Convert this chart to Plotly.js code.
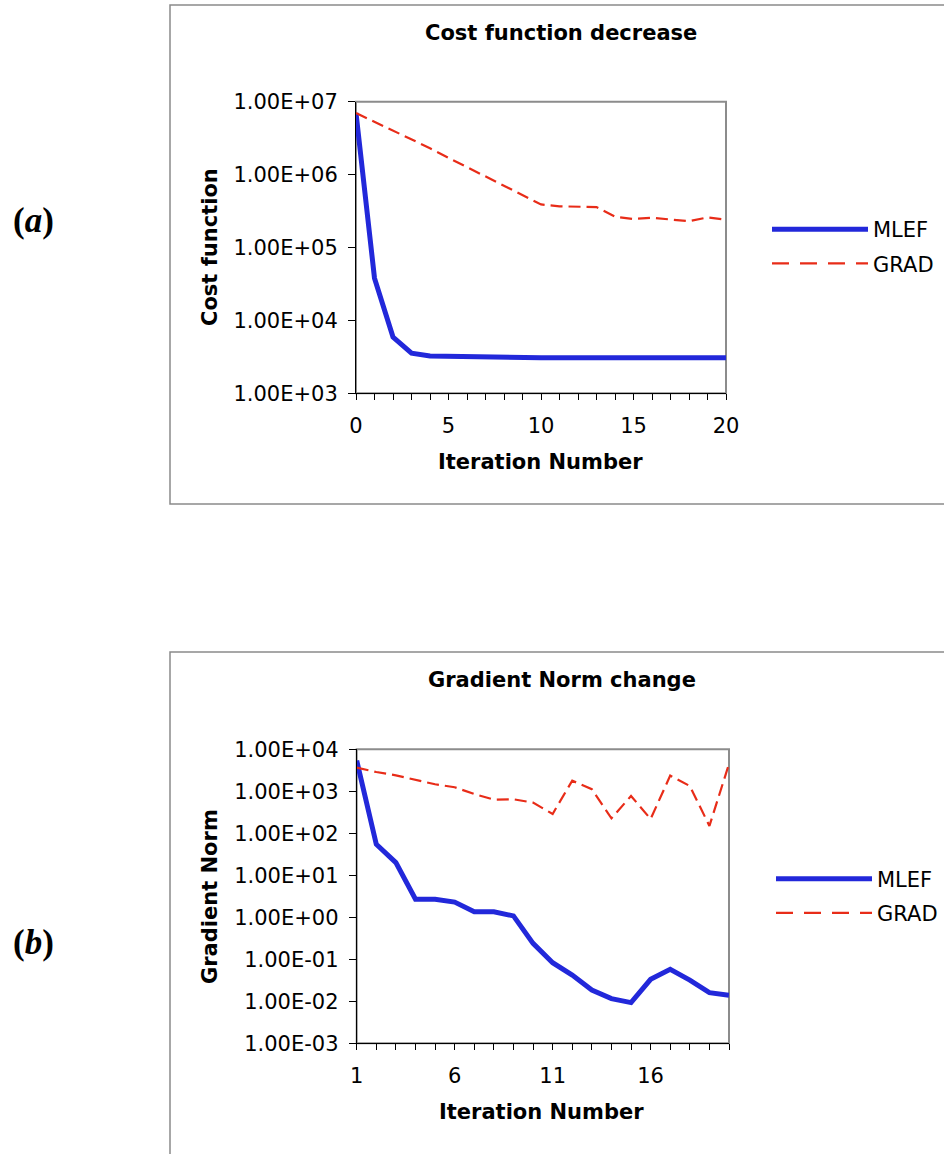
<!DOCTYPE html>
<html>
<head>
<meta charset="utf-8">
<script src="https://cdn.plot.ly/plotly-3.0.1.min.js"></script>
<style>
html,body{margin:0;padding:0;background:#fff;}
#chart{width:944px;height:1154px;}
</style>
</head>
<body>
<div id="chart"></div>
<script>
// ---------- data ----------
const seriesNames = ["MLEF", "GRAD"];

// (a) Cost function decrease
const iterA = [0,1,2,3,4,5,6,7,8,9,10,11,12,13,14,15,16,17,18,19,20];
const mlefCost = [7.0e6, 3.8e4, 5.9e3, 3.55e3, 3.25e3, 3.2e3, 3.15e3, 3.15e3, 3.15e3, 3.1e3, 3.08e3,
                  3.08e3, 3.08e3, 3.08e3, 3.08e3, 3.08e3, 3.08e3, 3.08e3, 3.08e3, 3.08e3, 3.08e3];
const gradCost = [7.0e6, 5.3e6, 4.1e6, 3.1e6, 2.3e6, 1.7e6, 1.26e6, 9.4e5, 7.0e5, 5.2e5, 3.9e5,
                  3.67e5, 3.63e5, 3.59e5, 2.65e5, 2.46e5, 2.56e5, 2.41e5, 2.29e5, 2.59e5, 2.41e5];
const costTickVals = [1e3, 1e4, 1e5, 1e6, 1e7];
const costTickText = ["1.00E+03", "1.00E+04", "1.00E+05", "1.00E+06", "1.00E+07"];

// (b) Gradient Norm change
const iterB = [1,2,3,4,5,6,7,8,9,10,11,12,13,14,15,16,17,18,19,20];
const mlefGrad = [5.4e3, 55, 20, 2.7, 2.7, 2.3, 1.35, 1.35, 1.08, 0.24, 0.083, 0.042, 0.0186,
                  0.0116, 0.0093, 0.0334, 0.058, 0.032, 0.0161, 0.0139];
const gradGrad = [3.66e3, 2.88e3, 2.4e3, 1.9e3, 1.47e3, 1.25e3, 864, 634, 646, 537, 289, 1.79e3,
                  1.12e3, 228, 774, 219, 2.36e3, 1.34e3, 150, 4.48e3];
const gradTickVals = [1e-3, 1e-2, 1e-1, 1, 1e1, 1e2, 1e3, 1e4];
const gradTickText = ["1.00E-03", "1.00E-02", "1.00E-01", "1.00E+00", "1.00E+01", "1.00E+02", "1.00E+03", "1.00E+04"];

// ---------- styling ----------
const W = 944, H = 1154;
const px = v => v / W;
const py = v => 1 - v / H;
const FONT = "DejaVu Sans, Verdana, sans-serif";
const FS = 21;
const BLUE = "rgb(34,40,218)";
const RED = "rgb(232,44,24)";

const blueLine = {color: BLUE, width: 5};
const redLine = {color: RED, width: 2.2, dash: "12px,6px"};

const data = [
  {x: iterA, y: mlefCost, type: "scatter", mode: "lines", name: seriesNames[0], line: blueLine,
   xaxis: "x", yaxis: "y", legend: "legend", legendgroup: "a1"},
  {x: iterA, y: gradCost, type: "scatter", mode: "lines", name: seriesNames[1], line: redLine,
   xaxis: "x", yaxis: "y", legend: "legend", legendgroup: "a2"},
  {x: iterB, y: mlefGrad, type: "scatter", mode: "lines", name: seriesNames[0], line: blueLine,
   xaxis: "x2", yaxis: "y2", legend: "legend2", legendgroup: "b1"},
  {x: iterB, y: gradGrad, type: "scatter", mode: "lines", name: seriesNames[1], line: redLine,
   xaxis: "x2", yaxis: "y2", legend: "legend2", legendgroup: "b2"}
];

const tickFont = {family: FONT, size: FS, color: "#000"};
const xCommon = {
  showgrid: false, zeroline: false, showline: true, linecolor: "#000", linewidth: 1,
  ticks: "outside", ticklen: 6, tickcolor: "#000", tickwidth: 1, tickfont: tickFont,
  dtick: 5, ticklabelstandoff: 7,
  minor: {dtick: 1, ticks: "outside", ticklen: 6, tickcolor: "#000", tickwidth: 1, showgrid: false}
};
const yCommon = {
  type: "log", showgrid: false, zeroline: false, showline: true, linecolor: "#000", linewidth: 1,
  ticks: "outside", ticklen: 7, tickcolor: "#000", tickwidth: 1, tickfont: tickFont,
  ticklabelstandoff: 6
};

const legendCommon = {
  font: {family: FONT, size: FS, color: "#000"},
  bgcolor: "rgba(0,0,0,0)", borderwidth: 0, itemwidth: 96, tracegroupgap: 4,
  xanchor: "left", yanchor: "middle", itemclick: false, itemdoubleclick: false
};

const layout = {
  width: W, height: H, margin: {l: 0, r: 0, t: 0, b: 0},
  paper_bgcolor: "#fff", plot_bgcolor: "#fff",
  font: {family: FONT, color: "#000"},
  showlegend: true,
  xaxis: Object.assign({}, xCommon, {domain: [px(356), px(726)], range: [0, 20], tick0: 0, anchor: "y"}),
  yaxis: Object.assign({}, yCommon, {domain: [py(393.3), py(101.7)], range: [3, 7],
           tickvals: costTickVals, ticktext: costTickText, anchor: "x"}),
  xaxis2: Object.assign({}, xCommon, {domain: [px(356.7), px(729)], range: [1, 20], tick0: 1, anchor: "y2",
           minor: Object.assign({}, xCommon.minor, {tick0: 1})}),
  yaxis2: Object.assign({}, yCommon, {domain: [py(1043.3), py(749.3)], range: [-3, 4],
           tickvals: gradTickVals, ticktext: gradTickText, anchor: "x2"}),
  legend: Object.assign({}, legendCommon, {x: px(767), y: py(246.5)}),
  legend2: Object.assign({}, legendCommon, {x: px(771), y: py(896)}),
  shapes: [
    // outer chart frames
    {type: "rect", xref: "paper", yref: "paper", x0: px(170), x1: px(950), y0: py(504), y1: py(5),
     line: {color: "#8a8a8a", width: 1.5}, layer: "below"},
    {type: "rect", xref: "paper", yref: "paper", x0: px(170), x1: px(950), y0: py(1170), y1: py(652),
     line: {color: "#8a8a8a", width: 1.5}, layer: "below"},
    // plot-area frames
    {type: "rect", xref: "x domain", yref: "y domain", x0: 0, x1: 1, y0: 0, y1: 1,
     line: {color: "#8c8c8c", width: 2}, layer: "below"},
    {type: "rect", xref: "x2 domain", yref: "y2 domain", x0: 0, x1: 1, y0: 0, y1: 1,
     line: {color: "#8c8c8c", width: 2}, layer: "below"}
  ],
  annotations: [
    {text: "<b>Cost function decrease</b>", xref: "paper", yref: "paper", x: px(561), y: py(33),
     showarrow: false, xanchor: "center", yanchor: "middle", font: {family: FONT, size: FS}},
    {text: "<b>Iteration Number</b>", xref: "paper", yref: "paper", x: px(540), y: py(462),
     showarrow: false, xanchor: "center", yanchor: "middle", font: {family: FONT, size: FS}},
    {text: "<b>Cost function</b>", xref: "paper", yref: "paper", x: px(210), y: py(247),
     showarrow: false, xanchor: "center", yanchor: "middle", textangle: -90, font: {family: FONT, size: FS}},
    {text: "<b>Gradient Norm change</b>", xref: "paper", yref: "paper", x: px(562), y: py(680),
     showarrow: false, xanchor: "center", yanchor: "middle", font: {family: FONT, size: FS}},
    {text: "<b>Iteration Number</b>", xref: "paper", yref: "paper", x: px(541), y: py(1112),
     showarrow: false, xanchor: "center", yanchor: "middle", font: {family: FONT, size: FS}},
    {text: "<b>Gradient Norm</b>", xref: "paper", yref: "paper", x: px(210), y: py(897),
     showarrow: false, xanchor: "center", yanchor: "middle", textangle: -90, font: {family: FONT, size: FS}},
    {text: "<b>(<i>a</i>)</b>", xref: "paper", yref: "paper", x: px(33), y: py(221),
     showarrow: false, xanchor: "center", yanchor: "middle", font: {family: "Liberation Serif, Times New Roman, serif", size: 35}},
    {text: "<b>(<i>b</i>)</b>", xref: "paper", yref: "paper", x: px(33), y: py(942),
     showarrow: false, xanchor: "center", yanchor: "middle", font: {family: "Liberation Serif, Times New Roman, serif", size: 35}}
  ]
};

Plotly.newPlot("chart", data, layout, {staticPlot: true, displayModeBar: false}).then(function (gd) {
  // lengthen legend line samples to match the original's long keys
  gd.querySelectorAll(".legendlines path").forEach(function (p) {
    p.setAttribute("d", "M5,0h96");
    if (p.style.strokeDasharray && p.style.strokeDasharray !== "none") {
      p.style.strokeDasharray = "17px,11px";
    }
  });
});
</script>
</body>
</html>
